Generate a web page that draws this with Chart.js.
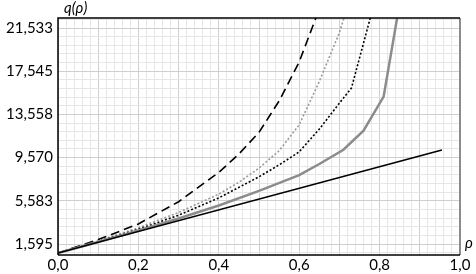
<!DOCTYPE html>
<html>
<head>
<meta charset="utf-8">
<script src="https://cdn.jsdelivr.net/npm/chart.js@4.4.1/dist/chart.umd.min.js"></script>
<style>
  html, body { margin: 0; padding: 0; background: #fff; }
  #wrap { width: 476px; height: 274px; }
</style>
</head>
<body>
<div id="wrap"><canvas id="c" width="476" height="274"></canvas></div>
<script>
// rho values and q(rho) values
const rhoLinear = [0, 0.955];
const qLinear = [0.76, 10.27];

const rhoGray = [0, 0.1, 0.2, 0.3, 0.4, 0.5, 0.6, 0.65, 0.71, 0.76, 0.81, 0.86];
const qGray = [0.76, 1.78, 2.84, 3.95, 5.15, 6.5, 7.95, 8.98, 10.3, 12.05, 15.2, 26];

const rhoDotBlack = [0, 0.1, 0.2, 0.3, 0.4, 0.5, 0.55, 0.6, 0.65, 0.7, 0.73, 0.78];
const qDotBlack = [0.76, 1.82, 2.95, 4.25, 5.85, 7.8, 8.9, 10.1, 12.2, 14.6, 16.0, 22.9];

const rhoDotGray = [0, 0.1, 0.2, 0.3, 0.4, 0.45, 0.5, 0.55, 0.6, 0.65, 0.7, 0.72];
const qDotGray = [0.76, 1.88, 3.1, 4.5, 6.2, 7.3, 8.6, 10.2, 12.6, 16.6, 21.1, 23.5];

const rhoDash = [0, 0.1, 0.2, 0.3, 0.4, 0.45, 0.5, 0.55, 0.6, 0.65];
const qDash = [0.76, 2.0, 3.45, 5.5, 8.2, 9.9, 11.9, 14.8, 18.4, 23.3];

const yTickValues = [1.595, 5.583, 9.570, 13.558, 17.545, 21.533];
const yTickLabels = ['1,595', '5,583', '9,570', '13,558', '17,545', '21,533'];
const xTickLabels = ['0,0', '0,2', '0,4', '0,6', '0,8', '1,0'];

const yMin = 0.58, yMax = 22.46;

function pts(xs, ys) {
    return xs.map((x, i) => ({ x: x, y: ys[i] }));
}

// frame + axis titles
const framePlugin = {
    id: 'frame',
    afterDraw(chart) {
        const { ctx, chartArea: a } = chart;
        ctx.save();
        ctx.strokeStyle = '#8c8c8c';
        ctx.lineWidth = 2;
        ctx.beginPath();
        ctx.moveTo(a.right, a.top);
        ctx.lineTo(a.right, a.bottom);
        ctx.stroke();
        ctx.strokeStyle = '#000';
        ctx.lineWidth = 1.5;
        ctx.beginPath();
        ctx.moveTo(a.left, a.bottom);
        ctx.lineTo(a.left, a.top);
        ctx.lineTo(a.right, a.top);
        ctx.moveTo(a.left, a.bottom);
        ctx.lineTo(a.right, a.bottom);
        ctx.stroke();
        ctx.fillStyle = '#000';
        ctx.font = 'italic 15px Lato';
        ctx.textBaseline = 'middle';
        ctx.textAlign = 'left';
        ctx.fillText('q(ρ)', a.left + 6, 8);
        ctx.fillText('ρ', a.right + 5, a.bottom - 12);
        ctx.restore();
    }
};

const ds = (label, xs, ys, color, width, dash) => ({
    label: label,
    data: pts(xs, ys),
    showLine: true,
    borderColor: color,
    borderWidth: width,
    borderDash: dash,
    pointRadius: 0,
    tension: 0,
    fill: false
});

new Chart(document.getElementById('c'), {
    type: 'scatter',
    data: {
        datasets: [
            ds('linear', rhoLinear, qLinear, '#000', 1.6, []),
            ds('gray', rhoGray, qGray, '#8c8c8c', 2.5, []),
            ds('dotBlack', rhoDotBlack, qDotBlack, '#000', 1.6, [2, 2]),
            ds('dotGray', rhoDotGray, qDotGray, '#9a9a9a', 1.6, [2, 2]),
            ds('dash', rhoDash, qDash, '#000', 1.6, [9, 5])
        ]
    },
    plugins: [framePlugin],
    options: {
        responsive: false,
        animation: false,
        layout: { padding: { top: 18, right: 16, left: 0, bottom: 0 } },
        plugins: {
            legend: { display: false },
            tooltip: { enabled: false }
        },
        scales: {
            x: {
                type: 'linear',
                min: 0,
                max: 1,
                afterFit(scale) { scale.height = 19; },
                ticks: {
                    stepSize: 0.02,
                    autoSkip: false,
                    maxRotation: 0,
                    padding: 1,
                    color: '#000',
                    font: { family: 'Lato', size: 15 },
                    callback: function(v) {
                        const k = Math.round(v * 50);
                        return k % 10 === 0 ? xTickLabels[k / 10] : '';
                    }
                },
                grid: {
                    drawTicks: false,
                    color: function(c) {
                        const k = Math.round(c.tick.value * 50);
                        return k % 5 === 0 ? '#cfcfcf' : '#e6e6e6';
                    }
                },
                border: { display: false }
            },
            y: {
                type: 'linear',
                min: yMin,
                max: yMax,
                afterFit(scale) { scale.width = 58; },
                afterBuildTicks(scale) {
                    const step = (yTickValues[1] - yTickValues[0]) / 5;
                    const ticks = [];
                    for (let k = -1; k < 40; k++) {
                        const v = yTickValues[0] + k * step;
                        if (v < yMin || v > yMax) continue;
                        ticks.push({ value: v, major: k % 5 === 0 });
                    }
                    scale.ticks = ticks;
                },
                ticks: {
                    autoSkip: false,
                    padding: 5,
                    color: '#000',
                    font: { family: 'Lato', size: 15 },
                    callback: function(v) {
                        const i = yTickValues.findIndex(t => Math.abs(t - v) < 0.01);
                        return i >= 0 ? yTickLabels[i] : '';
                    }
                },
                grid: {
                    drawTicks: false,
                    color: function(c) {
                        return c.tick && c.tick.major ? '#cfcfcf' : '#e6e6e6';
                    }
                },
                border: { display: false }
            }
        }
    }
});
</script>
</body>
</html>
